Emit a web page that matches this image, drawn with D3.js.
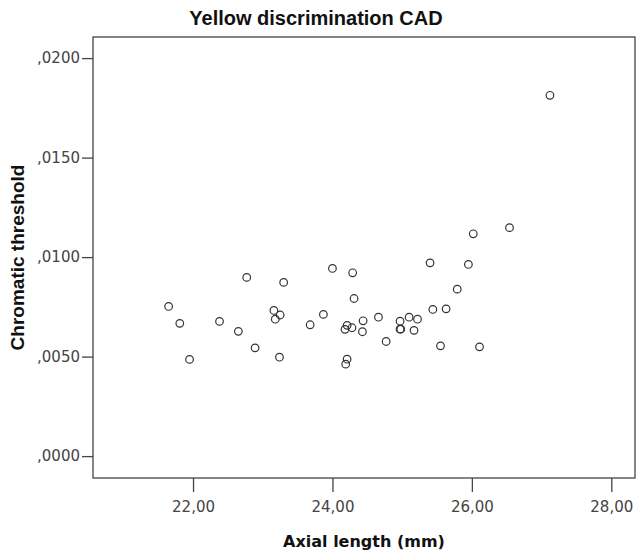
<!DOCTYPE html>
<html>
<head>
<meta charset="utf-8">
<script src="https://cdn.jsdelivr.net/npm/d3@7/dist/d3.min.js"></script>
<style>
  html, body { margin: 0; padding: 0; background: #fff; }
  svg { display: block; }
</style>
</head>
<body>
<svg id="chart" width="637" height="556"></svg>
<script>
// Data
const axialLength = [21.65, 21.81, 21.95, 22.38, 22.65, 22.77, 22.89, 23.16, 23.18, 23.25, 23.24, 23.30,
  23.68, 23.87, 24.00, 24.21, 24.18, 24.28, 24.29, 24.31, 24.21, 24.19, 24.44, 24.43, 24.66, 24.77,
  24.97, 24.97, 24.98, 25.10, 25.22, 25.17, 25.40, 25.44, 25.55, 25.63, 25.79, 25.95, 26.02, 26.11,
  26.54, 27.12];
const chromaticThreshold = [0.00752, 0.00667, 0.00486, 0.00677, 0.00627, 0.00898, 0.00544, 0.00732, 0.00688,
  0.00709, 0.00497, 0.00873, 0.00660, 0.00712, 0.00943, 0.00657, 0.00637, 0.00645, 0.00921, 0.00792,
  0.00487, 0.00462, 0.00680, 0.00625, 0.00698, 0.00576, 0.00678, 0.00638, 0.00638, 0.00698, 0.00688,
  0.00632, 0.00971, 0.00737, 0.00554, 0.00740, 0.00839, 0.00963, 0.01117, 0.00549, 0.01148, 0.01813];
const xTicks = [22, 24, 26, 28];
const xTickLabels = ["22,00", "24,00", "26,00", "28,00"];
const yTicks = [0, 0.005, 0.010, 0.015, 0.020];
const yTickLabels = [",0000", ",0050", ",0100", ",0150", ",0200"];
const titleText = "Yellow discrimination CAD";
const xLabel = "Axial length (mm)";
const yLabel = "Chromatic threshold";

const points = axialLength.map((x, i) => ({ x, y: chromaticThreshold[i] }));

const svg = d3.select("#chart");
const plot = { left: 93, right: 635, top: 37, bottom: 478 };

const x = d3.scaleLinear().domain([20.565, 28.34]).range([plot.left, plot.right]);
const y = d3.scaleLinear().domain([-0.0011, 0.02106]).range([plot.bottom, plot.top]);

const axisColor = "#444";

// Frame
svg.append("rect")
  .attr("x", plot.left).attr("y", plot.top)
  .attr("width", plot.right - plot.left).attr("height", plot.bottom - plot.top)
  .attr("fill", "none").attr("stroke", axisColor).attr("stroke-width", 1.3);

// X axis
const xAxis = d3.axisBottom(x)
  .tickValues(xTicks)
  .tickFormat((d, i) => xTickLabels[i])
  .tickSize(14).tickPadding(9).tickSizeOuter(0);
const gx = svg.append("g").attr("transform", `translate(0,${plot.bottom})`).call(xAxis);
gx.select(".domain").remove();
gx.selectAll(".tick line").attr("stroke", axisColor).attr("stroke-width", 1.3);
gx.selectAll(".tick text")
  .attr("fill", "#444")
  .style("font-family", "'DejaVu Sans', sans-serif")
  .style("font-size", "15px");

// Y axis
const yAxis = d3.axisLeft(y)
  .tickValues(yTicks)
  .tickFormat((d, i) => yTickLabels[i])
  .tickSize(11).tickPadding(2).tickSizeOuter(0);
const gy = svg.append("g").attr("transform", `translate(${plot.left},0)`).call(yAxis);
gy.select(".domain").remove();
gy.selectAll(".tick line").attr("stroke", axisColor).attr("stroke-width", 1.3);
gy.selectAll(".tick text")
  .attr("fill", "#444")
  .style("font-family", "'DejaVu Sans', sans-serif")
  .style("font-size", "15px");

// Points
svg.append("g").selectAll("circle")
  .data(points).join("circle")
  .attr("cx", d => x(d.x))
  .attr("cy", d => y(d.y))
  .attr("r", 3.8)
  .attr("fill", "none")
  .attr("stroke", "#333")
  .attr("stroke-width", 1.2);

// Title
svg.append("text")
  .attr("x", 316).attr("y", 25)
  .attr("text-anchor", "middle")
  .style("font-family", "'Liberation Sans', Arial, sans-serif")
  .style("font-weight", "bold")
  .style("font-size", "20px")
  .attr("fill", "#111")
  .text(titleText);

// X label
svg.append("text")
  .attr("x", (plot.left + plot.right) / 2).attr("y", 547)
  .attr("text-anchor", "middle")
  .style("font-family", "'DejaVu Sans', sans-serif")
  .style("font-weight", "bold")
  .style("font-size", "16px")
  .attr("fill", "#111")
  .text(xLabel);

// Y label
svg.append("text")
  .attr("transform", `translate(24,${(plot.top + plot.bottom) / 2}) rotate(-90)`)
  .attr("text-anchor", "middle")
  .style("font-family", "'Liberation Sans', Arial, sans-serif")
  .style("font-weight", "bold")
  .style("font-size", "19px")
  .attr("fill", "#111")
  .text(yLabel);
</script>
</body>
</html>
